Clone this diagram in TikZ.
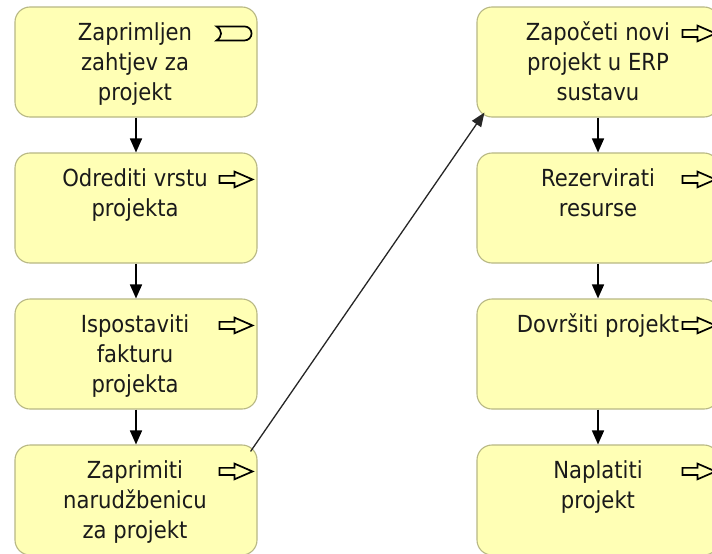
\documentclass[tikz,border=0pt]{standalone}
\usepackage{fontspec}
\setmainfont{DejaVu Sans}[FakeStretch=0.9]
\usetikzlibrary{arrows.meta,calc}
\definecolor{boxfill}{HTML}{FFFFB5}
\definecolor{boxline}{HTML}{B8B884}
\definecolor{txt}{HTML}{1A1A1A}
\tikzset{
  procbox/.style={draw=boxline, fill=boxfill, line width=1.1pt, rounded corners=15pt,
    minimum width=242pt, minimum height=110pt, inner sep=0pt},
  boxtext/.style={anchor=base, inner sep=0pt, text=txt,
    font=\fontsize{23.5}{30}\selectfont},
  flow/.style={line width=1.6pt, -{Triangle[length=14pt,width=12pt]}},
  diag/.style={line width=1.3pt, draw=black!85, -{Triangle[length=14pt,width=11pt]}},
  iconline/.style={line width=1.7pt, draw=black, line join=miter},
  pics/arrowicon/.style={code={
    \draw[iconline] (0,-3.6) -- (15,-3.6) -- (15,-7.8) -- (33,0) -- (15,7.8) -- (15,3.6) -- (0,3.6) -- cycle;
  }},
  pics/eventicon/.style={code={
    \draw[iconline] (0,-7) -- (28,-7) arc(-90:90:7) -- (0,7)
      .. controls (6,3) and (6,-3) .. (0,-7) -- cycle;
  }}
}
\newcommand{\btext}[1]{\parbox[t]{236pt}{\centering #1}}
\begin{document}
\begin{tikzpicture}[x=1pt,y=-1pt]
\clip (0,0) rectangle (712,554);
\fill[white] (0,0) rectangle (712,554);
% left column
\node[procbox] (b1) at (136,62) {};
\node[procbox] (b2) at (136,208) {};
\node[procbox] (b3) at (136,354) {};
\node[procbox] (b4) at (136,500) {};
% right column
\node[procbox] (r1) at (598,62) {};
\node[procbox] (r2) at (598,208) {};
\node[procbox] (r3) at (598,354) {};
\node[procbox] (r4) at (598,500) {};
% texts
\node[boxtext] (t1) at ($(b1.north)+(-1,34)$) {\btext{Zaprimljen\\zahtjev za\\projekt}};
\node[boxtext] (t2) at ($(b2.north)+(-1,34)$) {\btext{Odrediti vrstu\\projekta}};
\node[boxtext] (t3) at ($(b3.north)+(-1,34)$) {\btext{Ispostaviti\\fakturu\\projekta}};
\node[boxtext] (t4) at ($(b4.north)+(-1,34)$) {\btext{Zaprimiti\\narudžbenicu\\za projekt}};
\node[boxtext] (u1) at ($(r1.north)+(0,34)$) {\btext{Započeti novi\\projekt u ERP\\sustavu}};
\node[boxtext] (u2) at ($(r2.north)+(0,34)$) {\btext{Rezervirati\\resurse}};
\node[boxtext] (u3) at ($(r3.north)+(0,34)$) {\btext{Dovršiti projekt}};
\node[boxtext] (u4) at ($(r4.north)+(0,34)$) {\btext{Naplatiti\\projekt}};
% icons
\pic at ($(b1.north east)+(-41,27)$) {eventicon};
\pic at ($(b2.north east)+(-38,27)$) {arrowicon};
\pic at ($(b3.north east)+(-38,27)$) {arrowicon};
\pic at ($(b4.north east)+(-38,27)$) {arrowicon};
\pic at ($(r1.north east)+(-37,27)$) {arrowicon};
\pic at ($(r2.north east)+(-37,27)$) {arrowicon};
\pic at ($(r3.north east)+(-37,27)$) {arrowicon};
\pic at ($(r4.north east)+(-37,27)$) {arrowicon};
% connectors
\draw[flow] (b1.south) -- (b2.north);
\draw[flow] (b2.south) -- (b3.north);
\draw[flow] (b3.south) -- (b4.north);
\draw[flow] (r1.south) -- (r2.north);
\draw[flow] (r2.south) -- (r3.north);
\draw[flow] (r3.south) -- (r4.north);
\coordinate (ds) at ($(b4.north east)+(-7,7)$);
\coordinate (de) at ($(r1.south west)+(8,-5)$);
\draw[diag] (ds) -- (de);
\end{tikzpicture}
\end{document}
